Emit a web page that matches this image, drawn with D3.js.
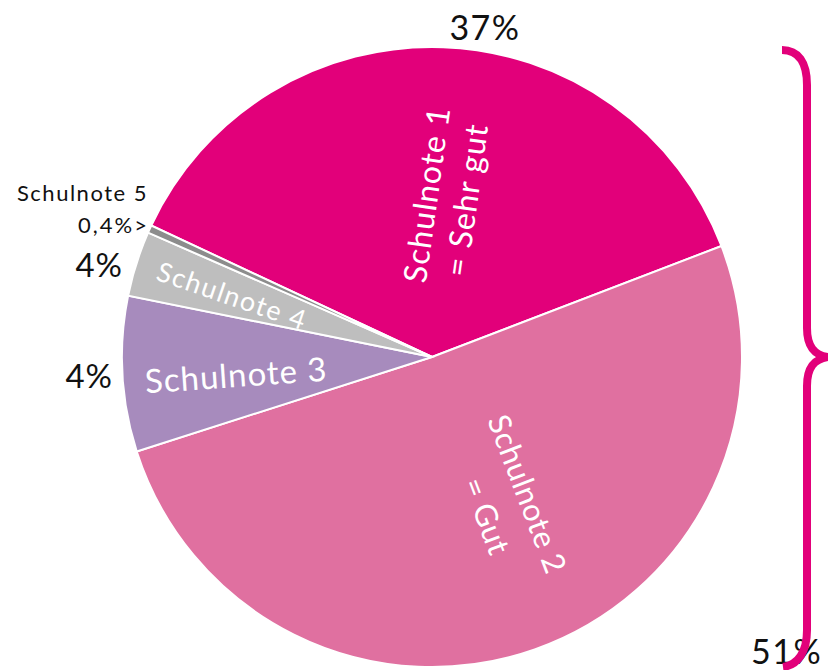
<!DOCTYPE html>
<html>
<head>
<meta charset="utf-8">
<script src="https://cdn.jsdelivr.net/npm/d3@7"></script>
<style>
  html, body { margin: 0; padding: 0; background: #fff; }
  svg { display: block; font-family: "Lato", "Open Sans", sans-serif; }
</style>
</head>
<body>
<svg id="chart" width="828" height="670"></svg>
<script>
// ---- data ----
const categories = ["Schulnote 1", "Schulnote 2", "Schulnote 3", "Schulnote 4", "Schulnote 5"];
const shares = [37.2, 50.9, 8.1, 3.4, 0.4];          // slice sizes as drawn (%)
const shareLabels = ["37%", "51%", "4%", "4%", "0,4%>"];
const innerLines = [["Schulnote 1", "= Sehr gut"], ["Schulnote 2", "= Gut"], ["Schulnote 3"], ["Schulnote 4"], []];
const colors = ["#E2007A", "#E070A0", "#A78BBD", "#BEBEBE", "#8C8C8C"];

// ---- layout ----
const cx = 432, cy = 357, R = 310;
const startDeg = -64.9;

const svg = d3.select("#chart");
const rows = categories.map((c, i) => ({ cat: c, value: shares[i], color: colors[i], lines: innerLines[i], label: shareLabels[i] }));

const pie = d3.pie().sort(null).value(d => d.value)
  .startAngle(startDeg * Math.PI / 180)
  .endAngle(startDeg * Math.PI / 180 + 2 * Math.PI);
const arc = d3.arc().innerRadius(0).outerRadius(R);

const g = svg.append("g").attr("transform", `translate(${cx},${cy})`);
g.selectAll("path.slice").data(pie(rows)).join("path")
  .attr("class", "slice")
  .attr("d", arc)
  .attr("fill", d => d.data.color)
  .attr("stroke", "#fff")
  .attr("stroke-width", 2)
  .attr("stroke-linejoin", "miter");

// inner labels (white)
const innerPos = [
  { x: 438, y: 196, rot: -82, size: 32, ls: 1, lh: 40, dx2: 0 },
  { x: 517, y: 498, rot: 69, size: 31, ls: 0.5, lh: 46, dx2: 6 },
  { x: 237, y: 387, rot: -4, size: 33, ls: 1, lh: 0, dx2: 0 },
  { x: 229, y: 305, rot: 19, size: 27, ls: 1.5, lh: 0, dx2: 0 }
];
innerPos.forEach((p, i) => {
  const t = svg.append("g").attr("transform", `translate(${p.x},${p.y}) rotate(${p.rot})`);
  rows[i].lines.forEach((ln, k) => {
    t.append("text")
      .attr("x", k * p.dx2).attr("y", k * p.lh)
      .attr("text-anchor", "middle")
      .attr("font-size", p.size)
      .attr("letter-spacing", p.ls)
      .attr("fill", "#fff")
      .text(ln);
  });
});

// outside labels (black)
const outPos = [
  { x: 485, y: 40, size: 34, ls: 1.5, anchor: "middle" },
  { x: 751, y: 664, size: 34, ls: 1.5, anchor: "start" },
  { x: 113, y: 388, size: 33, ls: 1, anchor: "end" },
  { x: 123, y: 277, size: 33, ls: 1, anchor: "end" },
  { x: 149, y: 233, size: 22, ls: 2, anchor: "end" }
];
outPos.forEach((p, i) => {
  svg.append("text")
    .attr("x", p.x).attr("y", p.y)
    .attr("text-anchor", p.anchor)
    .attr("font-size", p.size)
    .attr("letter-spacing", p.ls)
    .attr("fill", "#111")
    .text(rows[i].label);
});
svg.append("text")
  .attr("x", 148).attr("y", 201)
  .attr("text-anchor", "end")
  .attr("font-size", 22)
  .attr("letter-spacing", 1.5)
  .attr("fill", "#111")
  .text(categories[4]);

// curly brace
const brace = d3.path();
brace.moveTo(782, 50);
brace.bezierCurveTo(798, 50, 807, 62, 807, 85);
brace.lineTo(807, 328);
brace.bezierCurveTo(807, 346, 814, 355, 828, 357);
brace.bezierCurveTo(814, 359, 807, 368, 807, 386);
brace.lineTo(807, 630);
brace.bezierCurveTo(807, 652, 798, 665, 783, 667);
svg.append("path")
  .attr("d", brace.toString())
  .attr("fill", "none")
  .attr("stroke", "#E2007A")
  .attr("stroke-width", 8);
</script>
</body>
</html>
